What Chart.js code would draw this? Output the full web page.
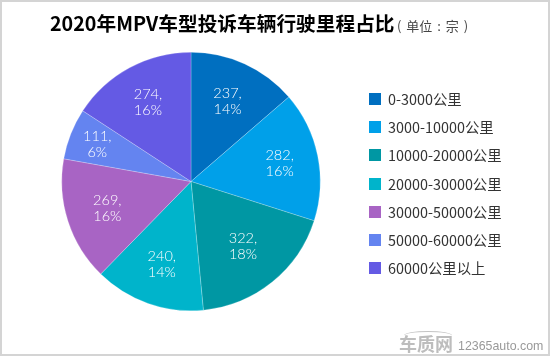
<!DOCTYPE html>
<html lang="zh">
<head>
    <meta charset="UTF-8">
    <title>2020年MPV车型投诉车辆行驶里程占比</title>
    <script src="https://cdn.jsdelivr.net/npm/chart.js"></script>
    <style>
        html, body { margin: 0; padding: 0; background: #fff; }
        #box { position: relative; width: 550px; height: 356px; overflow: hidden; font-family: "Noto Sans CJK SC", sans-serif; }
        #frame { position: absolute; left: 0; top: 0; width: 546px; height: 352px; border: 2px solid #d4d4d4; }
        canvas { position: absolute; left: 0; top: 0; }
        #title { position: absolute; left: 50px; top: 8px; font-size: 19.7px; font-weight: 700; color: #000; line-height: 30px; white-space: nowrap; }
        #unit { position: absolute; left: 397px; top: 14px; font-size: 13px; word-spacing: 2px; color: #444; line-height: 24px; white-space: nowrap; }
        #legend { position: absolute; left: 369px; top: 85px; }
        .row { position: relative; height: 28.2px; font-size: 14.4px; line-height: 28px; color: #333; white-space: nowrap; padding-left: 19px; }
        .row i { position: absolute; left: 0; top: 8px; width: 12px; height: 12px; }
        #roof { position: absolute; left: 404px; top: 331px; width: 48px; height: 8px; border-top: 1px solid #c4c4c4; border-radius: 50% 50% 0 0; }
        #mark1 { position: absolute; left: 399px; top: 331px; font-size: 18px; font-weight: 700; color: #bdbdbd; line-height: 24px; }
        #mark2 { position: absolute; left: 458px; top: 339px; font-family: "Liberation Sans", sans-serif; font-size: 12.4px; color: #999; line-height: 14px; }
    </style>
</head>
<body>
    <div id="box">
        <div id="frame"></div>
        <canvas id="myChart" width="550" height="356"></canvas>
        <div id="title">2020年MPV车型投诉车辆行驶里程占比</div>
        <div id="unit">( 单位 : 宗 )</div>
        <div id="legend"></div>
        <div id="roof"></div>
        <div id="mark1">车质网</div>
        <div id="mark2">12365auto.com</div>
    </div>

    <script>
        const categories = ['0-3000公里', '3000-10000公里', '10000-20000公里', '20000-30000公里', '30000-50000公里', '50000-60000公里', '60000公里以上'];
        const values = [237, 282, 322, 240, 269, 111, 274];
        const percents = ['14%', '16%', '18%', '14%', '16%', '6%', '16%'];
        const colors = ['#006fc0', '#00a0e9', '#0097a3', '#00b4cb', '#a864c4', '#6484f0', '#645ae4'];

        // насколько далеко от центра стоит подпись каждого сектора
        const labelOffset = [0.68, 0.7, 0.64, 0.68, 0.68, 0.78, 0.7];

        // подписи внутри секторов
        const sliceLabels = {
            id: 'sliceLabels',
            afterDatasetsDraw(chart) {
                const ctx = chart.ctx;
                ctx.save();
                ctx.fillStyle = '#fff';
                ctx.font = '300 14.5px Lato, sans-serif';
                ctx.textAlign = 'center';
                ctx.textBaseline = 'middle';
                chart.getDatasetMeta(0).data.forEach((arc, i) => {
                    const p = arc.getProps(['startAngle', 'endAngle', 'outerRadius', 'x', 'y'], true);
                    const a = (p.startAngle + p.endAngle) / 2;
                    const x = p.x + Math.cos(a) * p.outerRadius * labelOffset[i];
                    const y = p.y + Math.sin(a) * p.outerRadius * labelOffset[i];
                    ctx.fillText(values[i] + ',', x, y - 8);
                    ctx.fillText(percents[i], x, y + 8);
                });
                ctx.restore();
            }
        };

        new Chart(document.getElementById('myChart').getContext('2d'), {
            type: 'pie',
            data: {
                labels: categories,
                datasets: [{
                    data: values,
                    backgroundColor: colors,
                    borderColor: 'rgba(255,255,255,0.45)',
                    borderWidth: 0.5,
                    hoverOffset: 0
                }]
            },
            options: {
                responsive: false,
                animation: false,
                // круг: центр (191,181.5), радиус 129
                layout: { padding: { left: 61.5, right: 229.5, top: 52, bottom: 45 } },
                plugins: { legend: { display: false }, tooltip: { enabled: false } }
            },
            plugins: [sliceLabels]
        });

        const legend = document.getElementById('legend');
        categories.forEach((name, i) => {
            const row = document.createElement('div');
            row.className = 'row';
            row.innerHTML = '<i style="background:' + colors[i] + '"></i>' + name;
            legend.appendChild(row);
        });
    </script>
</body>
</html>
